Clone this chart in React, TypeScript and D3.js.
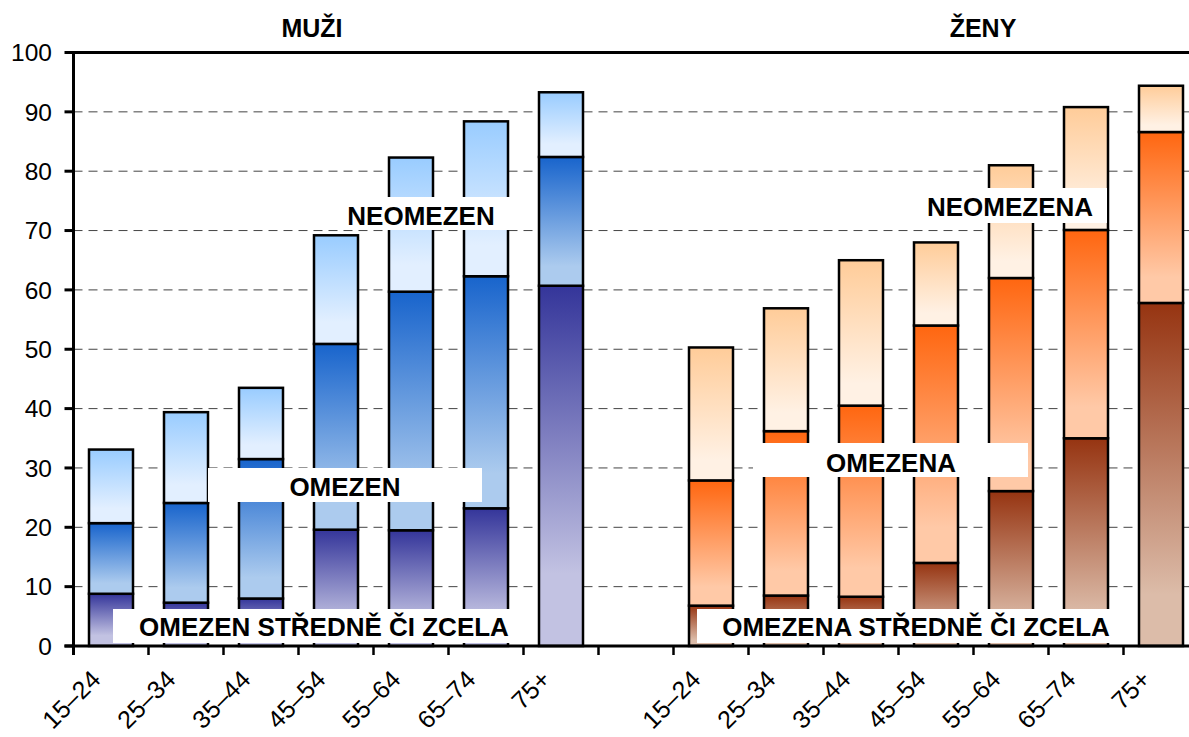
import * as d3 from 'd3';

// age groups, same for both panels
const ages = ['15–24', '25–34', '35–44', '45–54', '55–64', '65–74', '75+'];

// men, % (segment heights, bottom to top)
const menSevere = [8.8, 7.3, 8.0, 19.6, 19.5, 23.2, 60.7];
const menLimited = [11.9, 16.8, 23.5, 31.3, 40.2, 39.1, 21.7];
const menUnlimited = [12.4, 15.3, 12.0, 18.3, 22.6, 26.1, 10.9];

// women, %
const womenSevere = [6.8, 8.5, 8.3, 14.0, 26.1, 35.0, 57.8];
const womenLimited = [21.1, 27.7, 32.2, 40.0, 35.9, 35.1, 28.8];
const womenUnlimited = [22.4, 20.7, 24.5, 14.0, 19.0, 20.7, 7.8];

const yTicks = [0, 10, 20, 30, 40, 50, 60, 70, 80, 90, 100];
const keys = ['severe', 'limited', 'unlimited'];

const FONT = "Arial, 'Liberation Sans', sans-serif";

type Row = { id: string; label: string; sex: 'm' | 'f'; severe: number; limited: number; unlimited: number };

const rows: Row[] = [
  ...ages.map((a, i) => ({ id: 'm' + i, label: a, sex: 'm' as const, severe: menSevere[i], limited: menLimited[i], unlimited: menUnlimited[i] })),
  ...ages.map((a, i) => ({ id: 'f' + i, label: a, sex: 'f' as const, severe: womenSevere[i], limited: womenLimited[i], unlimited: womenUnlimited[i] })),
];

// gradient colours per sex and layer: [top, bottom, offset where bottom colour is reached]
const grads: Record<string, [string, string, number]> = {
  'm-severe': ['#34359a', '#c2c2e2', 0.8],
  'm-limited': ['#1864cc', '#accbee', 0.85],
  'm-unlimited': ['#99ccff', '#e2efff', 0.8],
  'f-severe': ['#963411', '#dcbca9', 0.85],
  'f-limited': ['#ff6610', '#ffc9a7', 0.85],
  'f-unlimited': ['#ffcc99', '#fff1e4', 0.85],
};

const labels = [
  { text: 'NEOMEZEN', box: [327, 197, 183, 33], tx: 421, ty: 225 },
  { text: 'OMEZEN', box: [208, 468, 274, 34], tx: 345, ty: 496 },
  { text: 'OMEZEN STŘEDNĚ ČI ZCELA', box: [113, 609, 397, 34], tx: 324, ty: 636 },
  { text: 'NEOMEZENA', box: [922, 188, 185, 35], tx: 1010, ty: 216 },
  { text: 'OMEZENA', box: [753, 443, 275, 34], tx: 891, ty: 472 },
  { text: 'OMEZENA STŘEDNĚ ČI ZCELA', box: [697, 609, 415, 34], tx: 916, ty: 636 },
];

export default function App() {
  const W = 1189;
  const H = 737;
  const left = 73.5;
  const step = 75;

  const domain = [...rows.slice(0, 7).map((r) => r.id), 'gap', ...rows.slice(7).map((r) => r.id)];
  const x = d3.scaleBand().domain(domain).range([left, left + domain.length * step]);
  const y = d3.scaleLinear().domain([0, 100]).range([646, 52.5]);
  const barW = 44;

  const stack = d3.stack<Row>().keys(keys);
  const series = stack(rows as any);

  return (
    <svg width={W} height={H} style={{ position: 'absolute', left: 0, top: 0, background: '#fff' }}>
      <defs>
        {Object.entries(grads).map(([k, [c0, c1, o]]) => (
          <linearGradient key={k} id={'g-' + k} x1={0} y1={0} x2={0} y2={1}>
            <stop offset={0} stopColor={c0} />
            <stop offset={o} stopColor={c1} />
            <stop offset={1} stopColor={c1} />
          </linearGradient>
        ))}
      </defs>

      {/* gridlines */}
      {yTicks.slice(1, -1).map((t) => (
        <line key={t} x1={left} x2={W} y1={y(t)} y2={y(t)} stroke="#444" strokeWidth={1} strokeDasharray="9,6" />
      ))}
      <line x1={left} x2={W} y1={y(100)} y2={y(100)} stroke="#000" strokeWidth={3} />

      {/* bars */}
      {series.map((s) =>
        s.map((d, i) => {
          const r = rows[i];
          const bx = x(r.id)! + x.bandwidth() / 2 - barW / 2;
          return (
            <rect
              key={s.key + r.id}
              x={bx}
              y={y(d[1])}
              width={barW}
              height={y(d[0]) - y(d[1])}
              fill={`url(#g-${r.sex}-${s.key})`}
              stroke="#000"
              strokeWidth={2.5}
            />
          );
        })
      )}

      {/* axes */}
      <line x1={left} x2={left} y1={y(100) - 1.5} y2={655} stroke="#000" strokeWidth={3} />
      <line x1={left - 9} x2={W} y1={y(0)} y2={y(0)} stroke="#000" strokeWidth={3} />
      {yTicks.map((t) => (
        <g key={t}>
          <line x1={left - 9} x2={left} y1={y(t)} y2={y(t)} stroke="#000" strokeWidth={3} />
          <text x={52} y={y(t)} dy="0.36em" textAnchor="end" fontSize={24.5} fontFamily={FONT} fill="#000">
            {t}
          </text>
        </g>
      ))}
      {d3.range(domain.length + 1).map((i) => (
        <line key={i} x1={left + i * step} x2={left + i * step} y1={y(0)} y2={655} stroke="#000" strokeWidth={2.5} />
      ))}
      {rows.map((r) => {
        const cx = x(r.id)! + x.bandwidth() / 2 - 9;
        return (
          <text
            key={r.id}
            transform={`translate(${cx},681) rotate(-45)`}
            textAnchor="end"
            fontSize={25}
            fontFamily={FONT}
            fill="#000"
          >
            {r.label}
          </text>
        );
      })}

      {/* panel titles */}
      <text x={312} y={37} textAnchor="middle" fontSize={25} fontWeight="bold" fontFamily={FONT}>MUŽI</text>
      <text x={983} y={37} textAnchor="middle" fontSize={25} fontWeight="bold" fontFamily={FONT}>ŽENY</text>

      {/* in-chart labels */}
      {labels.map((l) => (
        <g key={l.text}>
          <rect x={l.box[0]} y={l.box[1]} width={l.box[2]} height={l.box[3]} fill="#fff" />
          <text x={l.tx} y={l.ty} textAnchor="middle" fontSize={26} fontWeight="bold" fontFamily={FONT} fill="#000">
            {l.text}
          </text>
        </g>
      ))}
    </svg>
  );
}
